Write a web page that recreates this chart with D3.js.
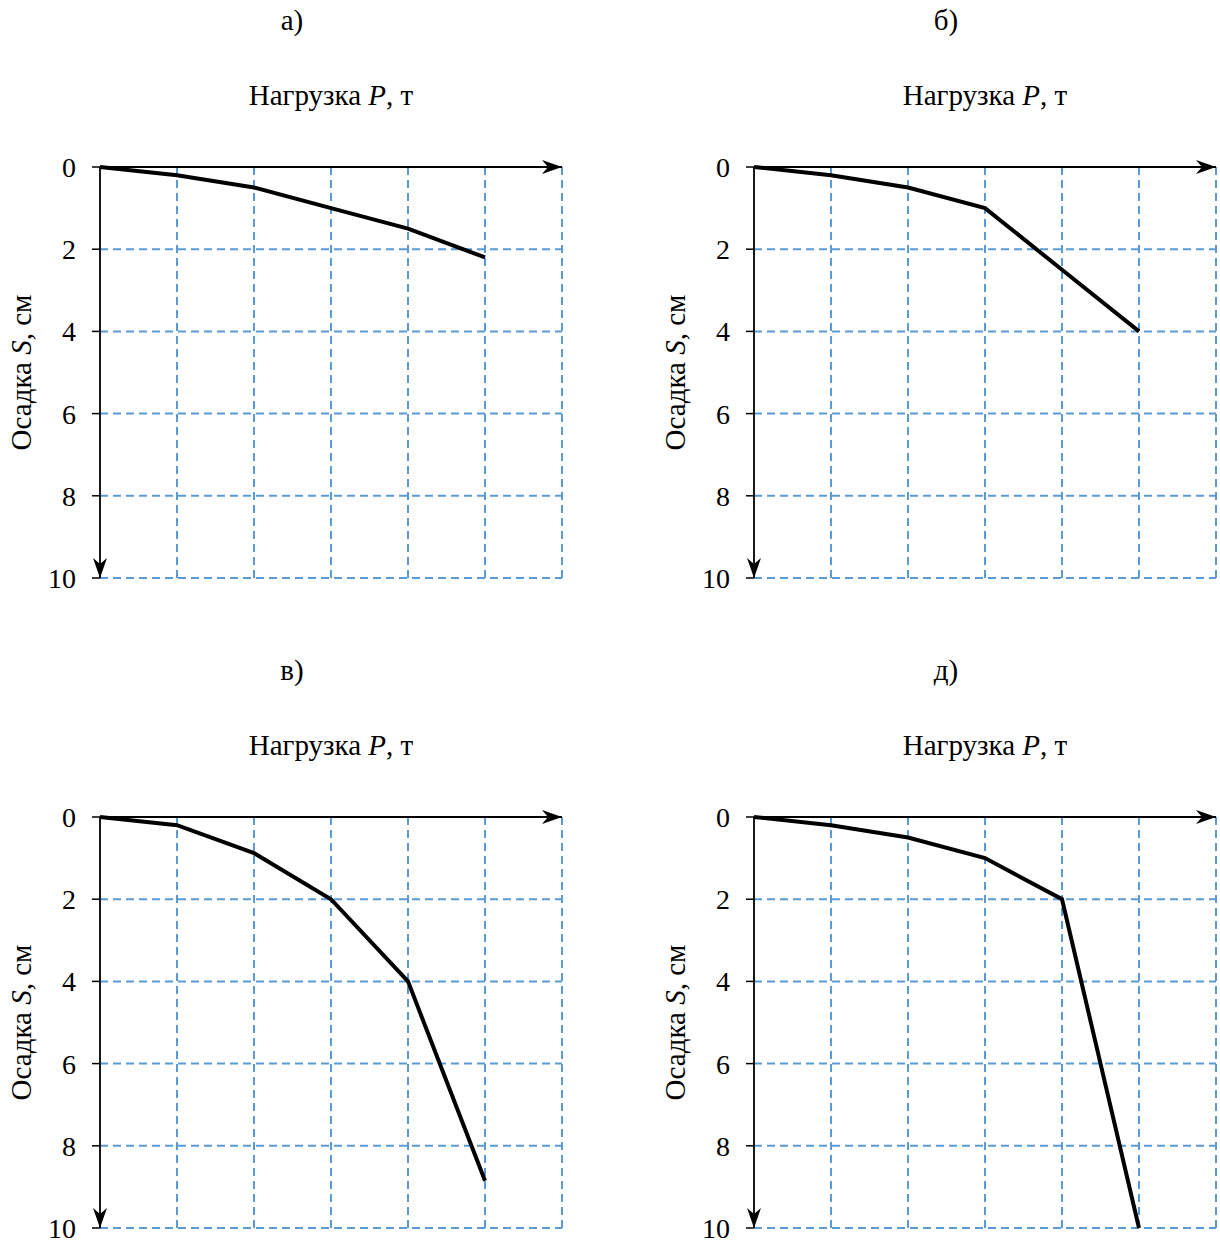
<!DOCTYPE html>
<html>
<head>
<meta charset="utf-8">
<script src="https://cdn.jsdelivr.net/npm/d3@7"></script>
<style>
	body { margin: 0; background: #fff; }
</style>
</head>
<body>
<div id="chart"></div>
<script>
// load steps P (grid units) and settlement S, cm, for each panel
var loads = [0, 1, 2, 3, 4, 5];
var settleA = [0, 0.2, 0.5, 1.0, 1.5, 2.2];
var settleB = [0, 0.2, 0.5, 1.0, 2.5, 4.0];
var settleV = [0, 0.2, 0.88, 2.0, 4.0, 8.85];
var settleD = [0, 0.2, 0.5, 1.0, 2.0, 10.0];
var panelLetters = ['а)', 'б)', 'в)', 'д)'];
var yTicks = [0, 2, 4, 6, 8, 10];
var xGrid = [1, 2, 3, 4, 5, 6];

var panels = [
	{letter: panelLetters[0], s: settleA, ox: 100, oy: 167},
	{letter: panelLetters[1], s: settleB, ox: 754, oy: 167},
	{letter: panelLetters[2], s: settleV, ox: 100, oy: 817},
	{letter: panelLetters[3], s: settleD, ox: 754, oy: 817}
];

var W = 1220, H = 1243,
	plotW = 462, plotH = 411,
	serif = "'Liberation Serif', 'DejaVu Serif', serif";

var svg = d3.select('#chart')
	.append('svg')
	.attr('width', W)
	.attr('height', H)
	.attr('font-family', serif);

var defs = svg.append('defs');
defs.append('marker')
	.attr('id', 'arrow')
	.attr('viewBox', '0 0 20 14')
	.attr('refX', 20)
	.attr('refY', 7)
	.attr('markerWidth', 20)
	.attr('markerHeight', 14)
	.attr('markerUnits', 'userSpaceOnUse')
	.attr('orient', 'auto')
	.append('path')
	.attr('d', 'M0,0 L20,7 L0,14 L6,7 Z')
	.attr('fill', '#000');

var x = d3.scaleLinear().domain([0, 6]).range([0, plotW]);
var y = d3.scaleLinear().domain([0, 10]).range([0, plotH]);

var line = d3.line()
	.x(function(d) { return x(d[0]); })
	.y(function(d) { return y(d[1]); });

panels.forEach(function(p) {
	var g = svg.append('g')
		.attr('transform', 'translate(' + p.ox + ',' + p.oy + ')');

	// dashed grid
	g.selectAll('.vgrid')
		.data(xGrid)
		.enter()
		.append('line')
		.attr('x1', function(d) { return x(d); })
		.attr('x2', function(d) { return x(d); })
		.attr('y1', 0)
		.attr('y2', plotH)
		.attr('stroke', '#5b9bd5')
		.attr('stroke-width', 2)
		.attr('stroke-dasharray', '8,5');

	g.selectAll('.hgrid')
		.data(yTicks.slice(1))
		.enter()
		.append('line')
		.attr('x1', 0)
		.attr('x2', plotW)
		.attr('y1', function(d) { return y(d); })
		.attr('y2', function(d) { return y(d); })
		.attr('stroke', '#5b9bd5')
		.attr('stroke-width', 2)
		.attr('stroke-dasharray', '8,5');

	// y ticks and labels
	g.selectAll('.tick')
		.data(yTicks)
		.enter()
		.append('line')
		.attr('x1', -8)
		.attr('x2', 0)
		.attr('y1', function(d) { return y(d); })
		.attr('y2', function(d) { return y(d); })
		.attr('stroke', '#000')
		.attr('stroke-width', 1.5);

	g.selectAll('.ylab')
		.data(yTicks)
		.enter()
		.append('text')
		.attr('x', -24)
		.attr('y', function(d) { return y(d) + 10; })
		.attr('text-anchor', 'end')
		.style('font-size', '28px')
		.text(function(d) { return d; });

	// axes with arrows
	g.append('line')
		.attr('x1', 0).attr('y1', 0)
		.attr('x2', plotW).attr('y2', 0)
		.attr('stroke', '#000')
		.attr('stroke-width', 1.8)
		.attr('marker-end', 'url(#arrow)');

	g.append('line')
		.attr('x1', 0).attr('y1', 0)
		.attr('x2', 0).attr('y2', plotH)
		.attr('stroke', '#000')
		.attr('stroke-width', 1.8)
		.attr('marker-end', 'url(#arrow)');

	// settlement curve
	var pts = loads.map(function(l, i) { return [l, p.s[i]]; });
	g.append('path')
		.datum(pts)
		.attr('d', line)
		.attr('fill', 'none')
		.attr('stroke', '#000')
		.attr('stroke-width', 4)
		.attr('stroke-linejoin', 'miter');

	// titles
	g.append('text')
		.attr('x', x(3) - 39)
		.attr('y', -137)
		.attr('text-anchor', 'middle')
		.style('font-size', '29px')
		.text(p.letter);

	var xt = g.append('text')
		.attr('x', x(3))
		.attr('y', -62)
		.attr('text-anchor', 'middle')
		.style('font-size', '29px');
	xt.append('tspan').text('Нагрузка ');
	xt.append('tspan').style('font-style', 'italic').text('P');
	xt.append('tspan').text(', т');

	var yt = g.append('text')
		.attr('transform', 'translate(-69,' + (plotH / 2) + ') rotate(-90)')
		.attr('text-anchor', 'middle')
		.style('font-size', '29px');
	yt.append('tspan').text('Осадка ');
	yt.append('tspan').style('font-style', 'italic').text('S');
	yt.append('tspan').text(', см');
});
</script>
</body>
</html>
